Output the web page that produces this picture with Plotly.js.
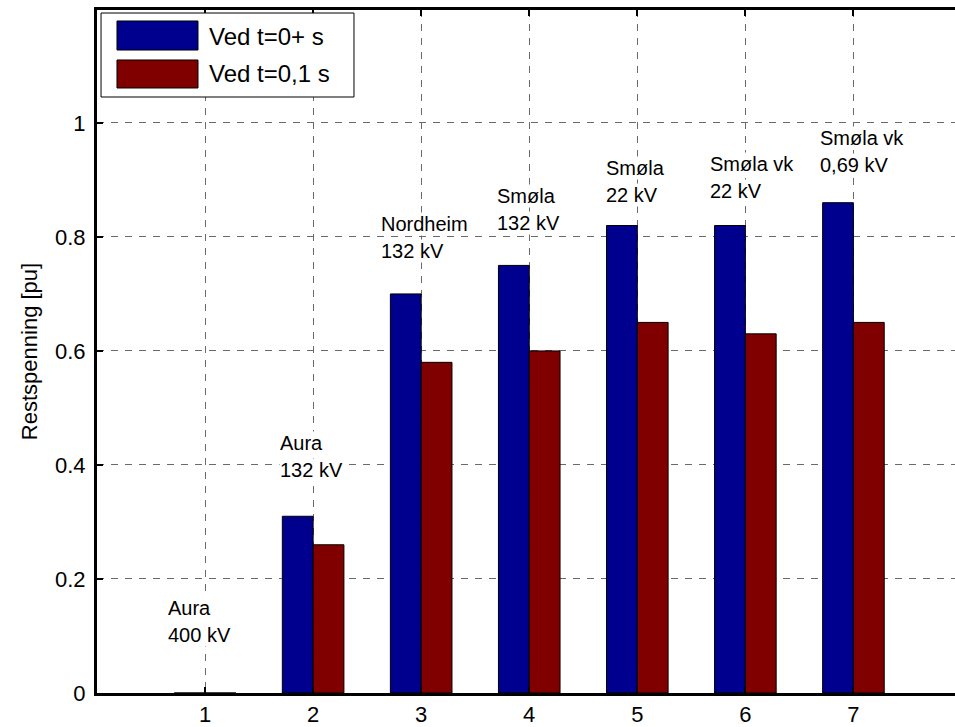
<!DOCTYPE html>
<html>
<head>
<meta charset="utf-8">
<script src="https://cdn.plot.ly/plotly-3.0.1.min.js"></script>
<style>html,body{margin:0;padding:0;background:#fff;}#chart{width:955px;height:727px;}</style>
</head>
<body>
<div id="chart"></div>
<script>
// ---- data ----
const categories = [1, 2, 3, 4, 5, 6, 7];
const seriesNames = ["Ved t=0+ s", "Ved t=0,1 s"];
const valuesT0 = [0, 0.31, 0.70, 0.75, 0.82, 0.82, 0.86];
const valuesT01 = [0, 0.26, 0.58, 0.60, 0.65, 0.63, 0.65];
const labelLine1 = ["Aura", "Aura", "Nordheim", "Smøla", "Smøla", "Smøla vk", "Smøla vk"];
const labelLine2 = ["400 kV", "132 kV", "132 kV", "132 kV", "22 kV", "22 kV", "0,69 kV"];
const yTickVals = [0, 0.2, 0.4, 0.6, 0.8, 1];
const yTickText = ["0", "0.2", "0.4", "0.6", "0.8", "1"];
const yTitle = "Restspenning [pu]";

// ---- layout helpers (positions of text labels, in data units) ----
const labelXOffset = [-0.35, -0.32, -0.38, -0.31, -0.30, -0.34, -0.32];
const labelYTop = [0.149, 0.439, 0.823, 0.872, 0.921, 0.928, 0.974];
const lineStep = 0.047;

const colors = ["#00008F", "#800000"];
const FONT = "Liberation Sans, Arial, Helvetica, sans-serif";

const traces = [valuesT0, valuesT01].map((vals, i) => ({
  type: "bar",
  x: categories,
  y: vals,
  name: seriesNames[i],
  showlegend: false,
  marker: { color: colors[i], line: { color: "#000", width: 1 } }
}));

const annotations = [];
categories.forEach((c, i) => {
  [labelLine1[i], labelLine2[i]].forEach((t, k) => {
    annotations.push({
      x: c + labelXOffset[i], y: labelYTop[i] - k * lineStep,
      xref: "x", yref: "y", text: t, showarrow: false,
      xanchor: "left", yanchor: "middle",
      font: { family: FONT, size: 20, color: "#000" },
      bgcolor: "#fff", borderpad: 0
    });
  });
});

// manual legend (paper coordinates)
const shapes = [
  { type: "rect", xref: "paper", yref: "paper", x0: 0.0047, x1: 0.2995, y0: 0.8726, y1: 0.9956,
    fillcolor: "#fff", line: { color: "#000", width: 1 }, layer: "above" }
];
const swY = [[0.9414, 0.9839], [0.8858, 0.9268]];
const txtY = [0.9619, 0.9063];
seriesNames.forEach((n, i) => {
  shapes.push({ type: "rect", xref: "paper", yref: "paper", x0: 0.0233, x1: 0.1177,
    y0: swY[i][0], y1: swY[i][1], fillcolor: colors[i], line: { color: "#000", width: 1 }, layer: "above" });
  annotations.push({ xref: "paper", yref: "paper", x: 0.1282, y: txtY[i], text: n,
    showarrow: false, xanchor: "left", yanchor: "middle",
    font: { family: FONT, size: 24, color: "#000" } });
});

const layout = {
  width: 955, height: 727,
  margin: { l: 97, r: 0, t: 10, b: 34 },
  paper_bgcolor: "#fff", plot_bgcolor: "#fff",
  barmode: "group", bargap: 0.43, bargroupgap: 0,
  showlegend: false,
  font: { family: FONT, color: "#000" },
  xaxis: {
    range: [0, 7.94], tickvals: categories, ticktext: categories.map(String),
    ticks: "inside", ticklen: 6, tickwidth: 2, tickcolor: "#000",
    showline: true, linecolor: "#000", linewidth: 3, mirror: "ticks",
    showgrid: true, gridcolor: "#6a6a6a", gridwidth: 1, griddash: "7px,7px",
    zeroline: false, tickfont: { family: FONT, size: 22, color: "#000" }
  },
  yaxis: {
    range: [0, 1.198], tickvals: yTickVals, ticktext: yTickText,
    ticks: "inside", ticklen: 6, tickwidth: 2, tickcolor: "#000",
    showline: true, linecolor: "#000", linewidth: 3,
    showgrid: true, gridcolor: "#6a6a6a", gridwidth: 1, griddash: "7px,7px",
    zeroline: false, tickfont: { family: FONT, size: 22, color: "#000" },
    ticklabelstandoff: 4,
    title: { text: yTitle, font: { family: FONT, size: 22, color: "#000" }, standoff: 12 }
  },
  annotations: annotations,
  shapes: shapes
};

Plotly.newPlot("chart", traces, layout, { displayModeBar: false, staticPlot: true });
</script>
</body>
</html>
